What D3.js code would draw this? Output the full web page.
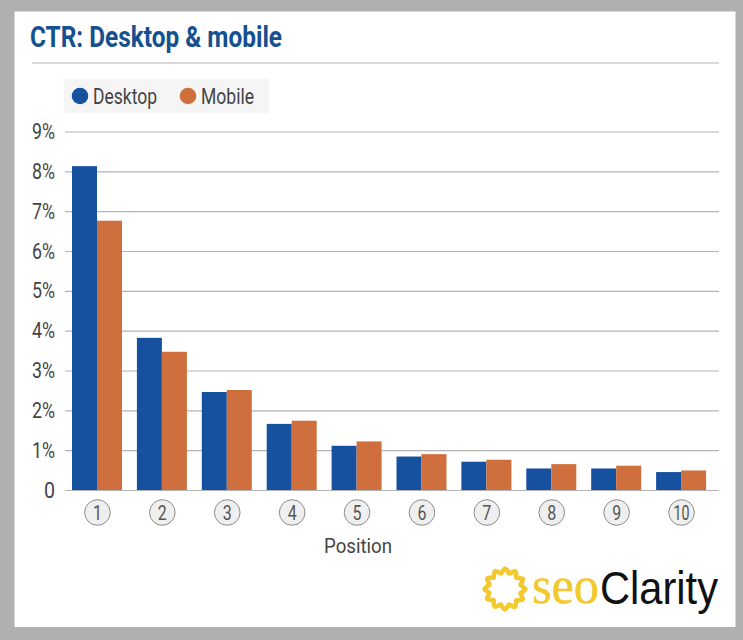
<!DOCTYPE html>
<html>
<head>
<meta charset="utf-8">
<script src="https://cdn.jsdelivr.net/npm/d3@7"></script>
<style>
	html, body { margin: 0; padding: 0; background: #b0b0b0; }
	svg { display: block; }
	text { font-family: Roboto, sans-serif; fill: #444; }
</style>
</head>
<body>
<div id="chart"></div>

<script language="javascript" type="text/javascript">
	var data = [
		{pos: 1, desktop: 8.13, mobile: 6.76},
		{pos: 2, desktop: 3.82, mobile: 3.47},
		{pos: 3, desktop: 2.46, mobile: 2.51},
		{pos: 4, desktop: 1.66, mobile: 1.74},
		{pos: 5, desktop: 1.11, mobile: 1.22},
		{pos: 6, desktop: 0.84, mobile: 0.90},
		{pos: 7, desktop: 0.71, mobile: 0.76},
		{pos: 8, desktop: 0.54, mobile: 0.65},
		{pos: 9, desktop: 0.54, mobile: 0.61},
		{pos: 10, desktop: 0.45, mobile: 0.49}
	];

	var series = [
		{key: "desktop", label: "Desktop", color: "#15519f"},
		{key: "mobile", label: "Mobile", color: "#cf6f3e"}
	];

	var svg = d3.select("#chart").append("svg").attr("width", 743).attr("height", 640);

	// white card on the grey page
	svg.append("rect").attr("width", 743).attr("height", 640).attr("fill", "#b0b0b0");
	svg.append("rect").attr("x", 14.5).attr("y", 11.5).attr("width", 721).attr("height", 615.5).attr("fill", "#fff");

	// title
	svg.append("text").attr("x", 30).attr("y", 47)
		.attr("textLength", 252).attr("lengthAdjust", "spacingAndGlyphs")
		.style("font-size", "29px").style("font-weight", 700).style("fill", "#15508f")
		.text("CTR: Desktop & mobile");
	svg.append("line").attr("x1", 32).attr("x2", 719).attr("y1", 63).attr("y2", 63)
		.attr("stroke", "#b4b4b4").attr("stroke-width", 1.2);

	// legend
	svg.append("rect").attr("x", 64).attr("y", 79).attr("width", 205).attr("height", 34).attr("fill", "#f5f5f5");
	var legend = svg.selectAll("g.legend").data(series).enter().append("g").attr("class", "legend")
		.attr("transform", function(d, i) { return "translate(" + [80, 188][i] + ",96)"; });
	legend.append("circle").attr("r", 8.3).attr("fill", function(d) { return d.color; });
	legend.append("text").attr("x", 13).attr("y", 7.5)
		.attr("textLength", function(d, i) { return [64, 53][i]; }).attr("lengthAdjust", "spacingAndGlyphs")
		.style("font-size", "22px")
		.text(function(d) { return d.label; });

	var y = d3.scaleLinear().domain([0, 9]).range([490, 131.5]);
	var x0 = d3.scaleBand().domain(data.map(function(d) { return d.pos; })).range([65, 714]);
	var x1 = d3.scaleBand().domain(series.map(function(d) { return d.key; })).range([7, 57]);

	// y axis: gridlines and labels
	var yAxis = svg.append("g").attr("transform", "translate(65,0)")
		.call(d3.axisLeft(y).tickValues(d3.range(0, 10)).tickSize(-654).tickPadding(10)
			.tickFormat(function(d) { return d === 0 ? "0" : d + "%"; }));
	yAxis.select(".domain").remove();
	yAxis.selectAll("line").attr("stroke", "#b4b4b4").attr("stroke-width", 1.2);
	yAxis.selectAll("text").style("font-size", "22px").style("font-family", "Roboto, sans-serif")
		.style("fill", "#444").attr("textLength", function(d) { return d === 0 ? 11 : 23; })
		.attr("lengthAdjust", "spacingAndGlyphs");

	// bars
	var groups = svg.selectAll("g.group").data(data).enter().append("g").attr("class", "group")
		.attr("transform", function(d) { return "translate(" + x0(d.pos) + ",0)"; });
	groups.selectAll("rect").data(function(d) {
			return series.map(function(s) { return {key: s.key, color: s.color, value: d[s.key]}; });
		}).enter().append("rect")
		.attr("x", function(d) { return x1(d.key); })
		.attr("width", x1.bandwidth())
		.attr("y", function(d) { return y(d.value); })
		.attr("height", function(d) { return y(0) - y(d.value); })
		.attr("fill", function(d) { return d.color; });

	// position badges
	var cx = x0.bandwidth() / 2;
	groups.append("circle").attr("cx", cx).attr("cy", 512.5).attr("r", 12.8)
		.attr("fill", "#efefef").attr("stroke", "#8a8a8a").attr("stroke-width", 1);
	groups.append("text").attr("x", cx).attr("y", 519.5).attr("text-anchor", "middle")
		.style("font-size", "20px").style("fill", "#555")
		.attr("textLength", function(d) { return d.pos === 10 ? 16 : 9; }).attr("lengthAdjust", "spacingAndGlyphs")
		.text(function(d) { return d.pos; });

	svg.append("text").attr("x", 358).attr("y", 552.5).attr("text-anchor", "middle")
		.attr("textLength", 68).attr("lengthAdjust", "spacingAndGlyphs")
		.style("font-size", "21px").text("Position");

	// seoClarity logo: wavy sun ring plus wordmark
	var sun = [];
	for (var i = 0; i < 48; i++) {
		sun.push([i * Math.PI * 2 / 48, [20.5, 18.5, 16, 18][i % 4]]);
	}
	var sunLine = d3.lineRadial().curve(d3.curveCardinalClosed);
	svg.append("path").attr("transform", "translate(505,589)").attr("d", sunLine(sun))
		.attr("fill", "none").attr("stroke", "#f2c92e").attr("stroke-width", 4.5);
	svg.append("text").attr("x", 532).attr("y", 603)
		.attr("textLength", 67).attr("lengthAdjust", "spacingAndGlyphs")
		.style("font-family", "'Liberation Serif', serif").style("font-size", "52px").style("fill", "#f2c92e")
		.style("stroke", "#f2c92e").style("stroke-width", 0.5)
		.text("seo");
	svg.append("text").attr("x", 600).attr("y", 604)
		.attr("textLength", 118).attr("lengthAdjust", "spacingAndGlyphs")
		.style("font-family", "'Liberation Sans', sans-serif").style("font-size", "46px").style("fill", "#111")
		.text("Clarity");
</script>
</body>
</html>
